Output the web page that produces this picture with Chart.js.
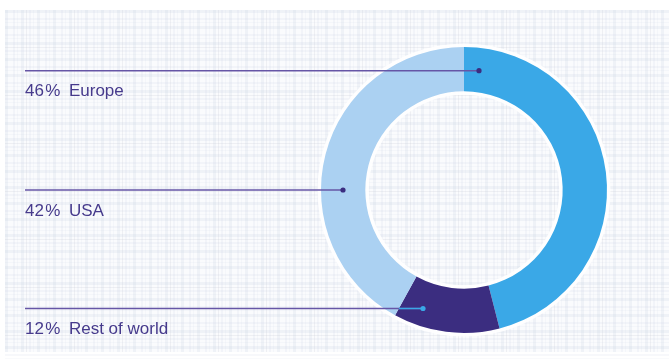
<!DOCTYPE html>
<html>
<head>
<meta charset="utf-8">
<script src="https://cdn.jsdelivr.net/npm/chart.js@4/dist/chart.umd.min.js"></script>
<style>
  html, body { margin: 0; padding: 0; background: #ffffff; }
  #wrap { width: 669px; height: 360px; position: relative; }
</style>
</head>
<body>
<div id="wrap"><canvas id="c" width="669" height="360"></canvas></div>
<script>
// ---- data ----
const categories = ['Europe', 'Rest of world', 'USA'];
const shares = [46, 12, 42];

// ---- style ----
const segmentColors = ['#3aa8e7', '#3b2d80', '#abd1f2'];
const textColor = '#463a8c';
const leaderColor = '#6656a6';

// background plaid (decoration)
const plaidPlugin = {
  id: 'plaid',
  beforeDraw(chart) {
    const ctx = chart.ctx;
    ctx.save();
    ctx.fillStyle = '#ffffff';
    ctx.fillRect(0, 0, chart.width, chart.height);
    const x0 = 5, y0 = 10, x1 = chart.width, y1 = 352;
    ctx.fillStyle = '#fafbfd';
    ctx.fillRect(x0, y0, x1 - x0, y1 - y0);
    const bands = [[0, 3, 0.22], [8, 2, 0.14], [12, 1, 0.10]];
    const period = 16;
    for (let x = x0; x < x1; x += period) {
      for (const [o, w, a] of bands) {
        ctx.fillStyle = `rgba(200,208,226,${a})`;
        ctx.fillRect(x + o, y0, w, y1 - y0);
      }
      if (Math.round((x - x0) / period) % 3 === 1) {
        ctx.fillStyle = 'rgba(185,190,202,0.18)';
        ctx.fillRect(x + 5, y0, 1, y1 - y0);
      }
    }
    for (let y = y0; y < y1; y += period) {
      for (const [o, w, a] of bands) {
        ctx.fillStyle = `rgba(200,208,226,${a})`;
        ctx.fillRect(x0, y + o, x1 - x0, w);
      }
      if (Math.round((y - y0) / period) % 3 === 2) {
        ctx.fillStyle = 'rgba(185,190,202,0.18)';
        ctx.fillRect(x0, y + 5, x1 - x0, 1);
      }
    }
    ctx.restore();
  }
};

// white halo around ring
const haloPlugin = {
  id: 'halo',
  beforeDatasetsDraw(chart) {
    const arc = chart.getDatasetMeta(0).data[0];
    if (!arc) return;
    const p = arc.getProps(['x', 'y', 'innerRadius', 'outerRadius'], true);
    const ctx = chart.ctx;
    ctx.save();
    ctx.strokeStyle = 'rgba(255,255,255,0.9)';
    ctx.lineWidth = 4;
    ctx.beginPath(); ctx.arc(p.x, p.y, p.outerRadius + 1.5, 0, Math.PI * 2); ctx.stroke();
    ctx.beginPath(); ctx.arc(p.x, p.y, p.innerRadius - 1.5, 0, Math.PI * 2); ctx.stroke();
    ctx.restore();
  }
};

// leaders + labels
const leaderPlugin = {
  id: 'leaders',
  afterDatasetsDraw(chart, args, opts) {
    const meta = chart.getDatasetMeta(0);
    const ctx = chart.ctx;
    const lineX = opts.lineX;
    ctx.save();
    for (const L of opts.items) {
      const arc = meta.data[L.index];
      const p = arc.getProps(['x', 'y', 'startAngle', 'endAngle', 'innerRadius', 'outerRadius'], true);
      const y = p.y + L.dy;
      const dotX = p.x + L.dx;
      ctx.strokeStyle = leaderColor;
      ctx.lineWidth = 1.5;
      ctx.beginPath(); ctx.moveTo(lineX, y); ctx.lineTo(dotX, y); ctx.stroke();
      let dotColor = '#3b2d80';
      if (L.lightOnSegment) {
        const a = p.endAngle;
        const t = (y - p.y) / Math.sin(a);
        const bx = p.x + t * Math.cos(a);
        ctx.strokeStyle = '#3aa8e7';
        ctx.beginPath(); ctx.moveTo(bx, y); ctx.lineTo(dotX, y); ctx.stroke();
        dotColor = '#3aa8e7';
      }
      ctx.fillStyle = dotColor;
      ctx.beginPath(); ctx.arc(dotX, y, 2.6, 0, Math.PI * 2); ctx.fill();
      ctx.fillStyle = textColor;
      ctx.font = '400 17px "Liberation Sans", Arial, sans-serif';
      ctx.textBaseline = 'alphabetic';
      ctx.textAlign = 'left';
      const label = shares[L.index] + '\u200A%\u2002' + categories[L.index];
      ctx.fillText(label, lineX, y + L.textDy);
    }
    ctx.restore();
  }
};

new Chart(document.getElementById('c'), {
  type: 'doughnut',
  data: {
    labels: categories,
    datasets: [{
      data: shares,
      backgroundColor: segmentColors,
      borderWidth: 0,
      hoverOffset: 0
    }]
  },
  options: {
    responsive: false,
    animation: false,
    cutout: '69%',
    layout: { padding: { left: 321, right: 62, top: 47, bottom: 27 } },
    plugins: {
      legend: { display: false },
      tooltip: { enabled: false },
      leaders: {
        lineX: 25,
        items: [
          { index: 0, dy: -119.3, dx: 15, textDy: 25.5 },
          { index: 2, dy: 0, dx: -121, textDy: 25.5 },
          { index: 1, dy: 118.5, dx: -41, textDy: 25.5, lightOnSegment: true }
        ]
      }
    }
  },
  plugins: [plaidPlugin, haloPlugin, leaderPlugin]
});
</script>
</body>
</html>
